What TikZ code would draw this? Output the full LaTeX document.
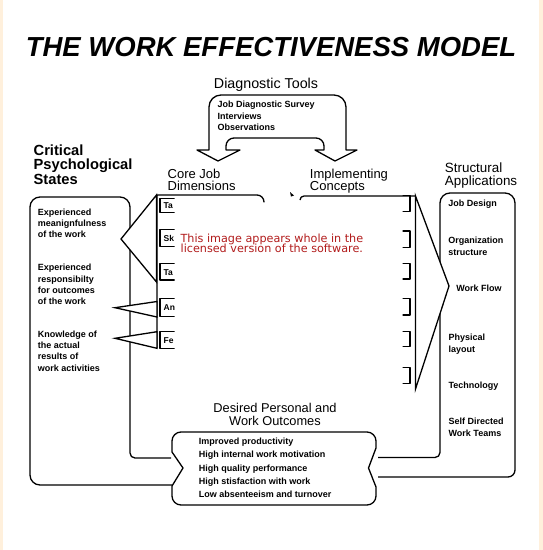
\documentclass[tikz,border=0pt]{standalone}
\usepackage{fontspec}
\setmainfont{Liberation Sans}
\newfontfamily\wmfont{DejaVu Sans}
\definecolor{paleedge}{RGB}{255,240,220}
\definecolor{wmred}{RGB}{178,28,28}
\begin{document}
\begin{tikzpicture}[x=1pt,y=-1pt,line width=1.3pt,line join=round,
  sm/.style={anchor=base west,inner sep=0pt,font=\fontsize{9}{10}\selectfont\bfseries},
  hd/.style={anchor=base west,inner sep=0pt,font=\fontsize{13}{15}\selectfont},
  lbl/.style={anchor=base west,inner sep=0pt,font=\fontsize{8.5}{10}\selectfont\bfseries},
  wedge/.style={draw,fill=white,line join=miter},
  tinybox/.style={line width=1.1pt}]
\useasboundingbox (0,0) rectangle (543,550);
\fill[white] (0,0) rectangle (543,550);
\fill[paleedge] (0,0) rectangle (2.5,550);
\fill[paleedge] (539,0) rectangle (543,550);

% Title
\node[anchor=base,inner sep=0pt,font=\fontsize{27.5}{30}\selectfont\bfseries\itshape] (title) at (271,56) {THE WORK EFFECTIVENESS MODEL};

% Diagnostic tools
\node[anchor=base,inner sep=0pt,font=\fontsize{14.3}{16}\selectfont] (dtitle) at (266,88) {Diagnostic Tools};
\draw (209,150) -- (197,150) -- (218,161) -- (240,150) -- (226,150)
  [rounded corners=8] -- (226,138) -- (324,138)
  [sharp corners] -- (324,150) -- (315,150) -- (335,161) -- (357,150) -- (346,150)
  [rounded corners=12] -- (346,95) -- (209,95)
  [sharp corners] -- cycle;
\node[sm] (d1) at (217,107) {Job Diagnostic Survey};
\node[sm] (d2) at (217,119) {Interviews};
\node[sm] (d3) at (217,130.5) {Observations};

% Headers
\node[anchor=base west,inner sep=0pt,font=\fontsize{14.7}{16}\selectfont\bfseries] (cps1) at (33,155) {Critical};
\node[anchor=base west,inner sep=0pt,font=\fontsize{14.7}{16}\selectfont\bfseries] (cps2) at (33,169.5) {Psychological};
\node[anchor=base west,inner sep=0pt,font=\fontsize{14.7}{16}\selectfont\bfseries] (cps3) at (33,184) {States};
\node[hd] (cj1) at (167,178) {Core Job};
\node[hd] (cj2) at (167,190) {Dimensions};
\node[hd] (ic1) at (309.3,178.5) {Implementing};
\node[hd] (ic2) at (309.3,190.5) {Concepts};
\node[hd,font=\fontsize{13.4}{15}\selectfont] (sa1) at (444.3,172.7) {Structural};
\node[hd,font=\fontsize{13.4}{15}\selectfont] (sa2) at (444.3,185) {Applications};

% Left band (critical psychological states)
\draw (171,458) [rounded corners=5] -- (130,458) [rounded corners=10] -- (130,197) -- (30,197) -- (30,485) [sharp corners] -- (172,485);
% Right band (structural applications)
\draw (378,457.5) [rounded corners=5] -- (440,457.5) [rounded corners=10] -- (440,193) -- (515,193) [rounded corners=7] -- (515,477) [sharp corners] -- (378,477);

% Outcomes box
\draw (172,452) [rounded corners=9] -- (172,432) -- (376,432)
  [sharp corners] -- (376,448) -- (368.5,468) -- (376,487)
  [rounded corners=9] -- (376,505) -- (172,505)
  [sharp corners] -- (172,486) -- (183,468) -- cycle;
\node[anchor=base,inner sep=0pt,font=\fontsize{12.8}{14}\selectfont] (o1) at (275,412.3) {Desired Personal and};
\node[anchor=base,inner sep=0pt,font=\fontsize{12.8}{14}\selectfont] (o2) at (275,425) {Work Outcomes};
\node[sm] (w1) at (198.3,444.3) {Improved productivity};
\node[sm] (w2) at (198.3,457.7) {High internal work motivation};
\node[sm] (w3) at (198.3,471) {High quality performance};
\node[sm] (w4) at (198.3,484.3) {High stisfaction with work};
\node[sm] (w5) at (198.3,497.7) {Low absenteeism and turnover};

% Core job dimensions box (visible parts)
\draw (157,348) -- (157,195) [rounded corners=7] -- (264,195) [sharp corners] -- (264,201);
\begin{scope}
  \clip (150,190) rectangle (174.5,360);
  \draw[tinybox] (160,198.3) rectangle (200,212.7);
  \draw[tinybox] (160,229.3) rectangle (200,246.7);
  \draw[tinybox] (160,263.3) rectangle (200,280);
  \draw[tinybox] (160,298.3) rectangle (200,316.7);
  \draw[tinybox] (160,331.7) rectangle (200,348.3);
  \node[lbl] (k1) at (163,208.3) {Ta};
  \node[lbl] (k2) at (163,241.5) {Sk};
  \node[lbl] (k3) at (163,275) {Ta};
  \node[lbl] (k4) at (163,310.5) {An};
  \node[lbl] (k5) at (163,343) {Fe};
\end{scope}

% Implementing concepts box (visible parts)
\draw (300,200) [rounded corners=4] -- (300,196) [sharp corners] -- (415.5,196);
\fill (290,192) -- (294,195.5) -- (291,196.5) -- cycle;
\begin{scope}
  \clip (402.5,190) rectangle (420,392);
  \draw[tinybox] (380,195.7) rectangle (410,211.7);
  \draw[tinybox] (380,231) rectangle (410,247.3);
  \draw[tinybox] (380,263.3) rectangle (410,279);
  \draw[tinybox] (380,298.3) rectangle (410,315);
  \draw[tinybox] (380,331.7) rectangle (410,346.7);
  \draw[tinybox] (380,367.3) rectangle (410,383.3);
\end{scope}

% Wedges
\draw[wedge] (156.5,195) -- (121,239) -- (156.5,282) -- cycle;
\draw[wedge] (157,301.5) -- (115,307.7) -- (157,317) -- cycle;
\draw[wedge] (157,331.7) -- (115,338.3) -- (157,348.3) -- cycle;
\draw[wedge] (415.5,196) -- (449,286) -- (415.5,389) -- cycle;

% Left column texts
\node[sm] (l1) at (37.3,215) {Experienced};
\node[sm] (l2) at (37.3,226.2) {meanignfulness};
\node[sm] (l3) at (37.3,237.4) {of the work};
\node[sm] (l4) at (37.3,270.7) {Experienced};
\node[sm] (l5) at (37.3,282) {responsibilty};
\node[sm] (l6) at (37.3,293.2) {for outcomes};
\node[sm] (l7) at (37.3,304.4) {of the work};
\node[sm] (l8) at (37.3,337.3) {Knowledge of};
\node[sm] (l9) at (37.3,348.6) {the actual};
\node[sm] (l10) at (37.3,359.9) {results of};
\node[sm] (l11) at (37.3,371.2) {work activities};

% Right column texts
\node[sm] (r1) at (447.7,206.7) {Job Design};
\node[sm] (r2) at (447.7,243.3) {Organization};
\node[sm] (r3) at (447.7,255.3) {structure};
\node[sm] (r4) at (455.7,291) {Work Flow};
\node[sm] (r5) at (448,340) {Physical};
\node[sm] (r6) at (448,352) {layout};
\node[sm] (r7) at (448,388.3) {Technology};
\node[sm] (r8) at (448,424.3) {Self Directed};
\node[sm] (r9) at (448,436.7) {Work Teams};

% Watermark text
\node[anchor=base west,inner sep=0pt,text=wmred,font=\wmfont\fontsize{11.2}{12}\selectfont] (wm1) at (180,242.3) {This image appears whole in the};
\node[anchor=base west,inner sep=0pt,text=wmred,font=\wmfont\fontsize{11.2}{12}\selectfont] (wm2) at (180,252.7) {licensed version of the software.};
\end{tikzpicture}
\end{document}
